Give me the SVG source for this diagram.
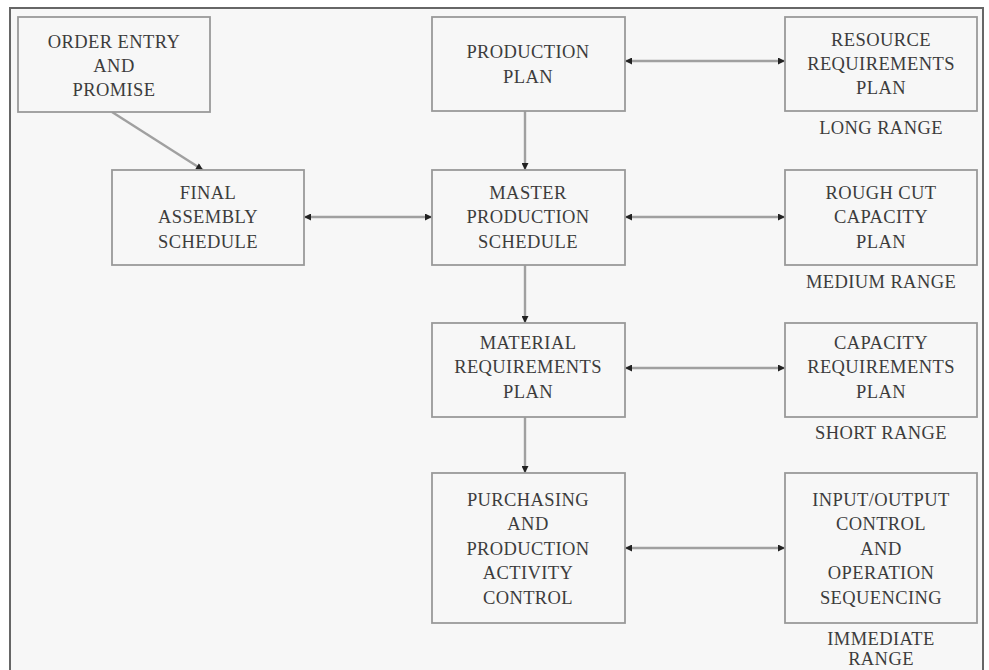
<svg xmlns="http://www.w3.org/2000/svg" width="989" height="670" viewBox="0 0 989 670">
<style>
.box{fill:#f7f7f7;stroke:#999999;stroke-width:1.8}
.t{font-family:"Liberation Serif","Times New Roman",serif;font-size:18.5px;fill:#3c3c3c;text-anchor:middle;letter-spacing:0.4px}
.c{stroke:#a0a0a0;stroke-width:2.4;fill:none}
</style>
<defs>
<marker id="ah" viewBox="0 0 10 10" refX="10" refY="5" markerWidth="10" markerHeight="7" markerUnits="userSpaceOnUse" orient="auto-start-reverse">
<path d="M0,0 L10,5 L0,10 z" fill="#222222"/>
</marker>
</defs>
<rect x="0" y="0" width="989" height="670" fill="#ffffff"/>
<rect x="10" y="8" width="973" height="700" fill="#f7f7f7" stroke="#666666" stroke-width="2"/>

<g id="connectors">
<line class="c" x1="112" y1="112" x2="203" y2="170" marker-end="url(#ah)"/>
<line class="c" x1="625" y1="61" x2="785" y2="61" marker-start="url(#ah)" marker-end="url(#ah)"/>
<line class="c" x1="525" y1="111" x2="525" y2="170" marker-end="url(#ah)"/>
<line class="c" x1="304" y1="217" x2="432" y2="217" marker-start="url(#ah)" marker-end="url(#ah)"/>
<line class="c" x1="625" y1="217" x2="785" y2="217" marker-start="url(#ah)" marker-end="url(#ah)"/>
<line class="c" x1="525" y1="265" x2="525" y2="323" marker-end="url(#ah)"/>
<line class="c" x1="625" y1="368" x2="785" y2="368" marker-start="url(#ah)" marker-end="url(#ah)"/>
<line class="c" x1="525" y1="417" x2="525" y2="473" marker-end="url(#ah)"/>
<line class="c" x1="625" y1="548" x2="785" y2="548" marker-start="url(#ah)" marker-end="url(#ah)"/>
</g>

<g id="order-entry">
<rect class="box" x="18" y="17" width="192" height="95"/>
<text class="t" x="114" y="48">ORDER ENTRY</text>
<text class="t" x="114" y="72">AND</text>
<text class="t" x="114" y="96">PROMISE</text>
</g>

<g id="production-plan">
<rect class="box" x="432" y="17" width="193" height="94"/>
<text class="t" x="528" y="58">PRODUCTION</text>
<text class="t" x="528" y="83">PLAN</text>
</g>

<g id="resource-requirements">
<rect class="box" x="785" y="17" width="192" height="94"/>
<text class="t" x="881" y="46">RESOURCE</text>
<text class="t" x="881" y="70">REQUIREMENTS</text>
<text class="t" x="881" y="94">PLAN</text>
<text class="t" x="881" y="134">LONG RANGE</text>
</g>

<g id="final-assembly">
<rect class="box" x="112" y="170" width="192" height="95"/>
<text class="t" x="208" y="199">FINAL</text>
<text class="t" x="208" y="223">ASSEMBLY</text>
<text class="t" x="208" y="248">SCHEDULE</text>
</g>

<g id="master-production">
<rect class="box" x="432" y="170" width="193" height="95"/>
<text class="t" x="528" y="199">MASTER</text>
<text class="t" x="528" y="223">PRODUCTION</text>
<text class="t" x="528" y="248">SCHEDULE</text>
</g>

<g id="rough-cut">
<rect class="box" x="785" y="170" width="192" height="95"/>
<text class="t" x="881" y="199">ROUGH CUT</text>
<text class="t" x="881" y="223">CAPACITY</text>
<text class="t" x="881" y="248">PLAN</text>
<text class="t" x="881" y="288">MEDIUM RANGE</text>
</g>

<g id="material-requirements">
<rect class="box" x="432" y="323" width="193" height="94"/>
<text class="t" x="528" y="349">MATERIAL</text>
<text class="t" x="528" y="373">REQUIREMENTS</text>
<text class="t" x="528" y="398">PLAN</text>
</g>

<g id="capacity-requirements">
<rect class="box" x="785" y="323" width="192" height="94"/>
<text class="t" x="881" y="349">CAPACITY</text>
<text class="t" x="881" y="373">REQUIREMENTS</text>
<text class="t" x="881" y="398">PLAN</text>
<text class="t" x="881" y="439">SHORT RANGE</text>
</g>

<g id="purchasing">
<rect class="box" x="432" y="473" width="193" height="150"/>
<text class="t" x="528" y="506">PURCHASING</text>
<text class="t" x="528" y="530">AND</text>
<text class="t" x="528" y="555">PRODUCTION</text>
<text class="t" x="528" y="579">ACTIVITY</text>
<text class="t" x="528" y="604">CONTROL</text>
</g>

<g id="input-output">
<rect class="box" x="785" y="473" width="192" height="150"/>
<text class="t" x="881" y="506">INPUT/OUTPUT</text>
<text class="t" x="881" y="530">CONTROL</text>
<text class="t" x="881" y="555">AND</text>
<text class="t" x="881" y="579">OPERATION</text>
<text class="t" x="881" y="604">SEQUENCING</text>
<text class="t" x="881" y="645">IMMEDIATE</text>
<text class="t" x="881" y="665">RANGE</text>
</g>
</svg>
